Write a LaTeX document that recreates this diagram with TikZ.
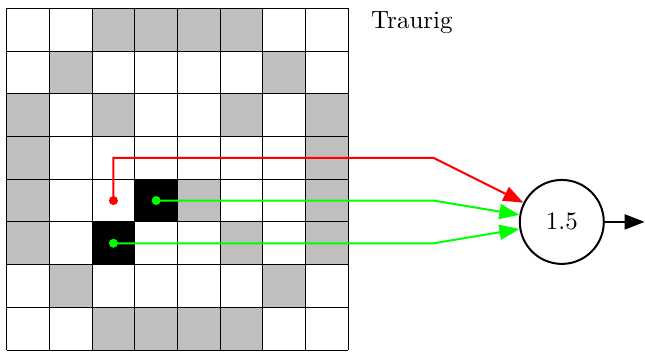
\documentclass[tikz,border=0pt]{standalone}
\usetikzlibrary{arrows.meta}
\begin{document}
\begin{tikzpicture}[x=0.6cm,y=0.6cm,
  dot/.style={circle,inner sep=0pt,minimum size=3.6pt},
  conn/.style={line width=0.8pt,-{Triangle[length=8pt,width=6pt]}},
  neuron/.style={circle,draw=black,line width=0.8pt,minimum size=0.59cm*2,inner sep=0pt}]
\useasboundingbox (-0.157,-0.023) rectangle (14.948,8.197);
% grid: rows from top (r=0) to bottom (r=7)
\foreach \r/\cols in {0/{2,3,4,5},1/{1,6},2/{0,2,5,7},3/{0,7},4/{0,4,7},5/{0,5,7},6/{1,6},7/{2,3,4,5}}{
  \foreach \c in \cols {\fill[lightgray] (\c,7-\r) rectangle ++(1,1);}
}
\fill[black] (3,3) rectangle (4,4);
\fill[black] (2,2) rectangle (3,3);
\foreach \i in {0,...,8}{
  \draw[line width=0.4pt] (\i,0) -- (\i,8);
  \draw[line width=0.4pt] (0,\i) -- (8,\i);
}
% dots
\node[dot,fill=red] (rd) at (2.5,3.5) {};
\node[dot,fill=green] (ga) at (3.5,3.5) {};
\node[dot,fill=green] (gb) at (2.5,2.5) {};
\coordinate (rb) at (10,4.5);
\coordinate (gab) at (10,3.5);
\coordinate (gbb) at (10,2.5);
\node[neuron] (n) at (13,3) {1.5};
\coordinate (out) at (14.94,3);
\node[anchor=base,inner sep=0pt] (lbl) at (9.49,7.52) {Traurig};
\draw[conn,red] (rd.center) |- (rb) -- (n);
\draw[conn,green] (ga.center) -- (gab) -- (n);
\draw[conn,green] (gb.center) -- (gbb) -- (n);
\draw[conn,black] (n) -- (out);
\end{tikzpicture}
\end{document}
